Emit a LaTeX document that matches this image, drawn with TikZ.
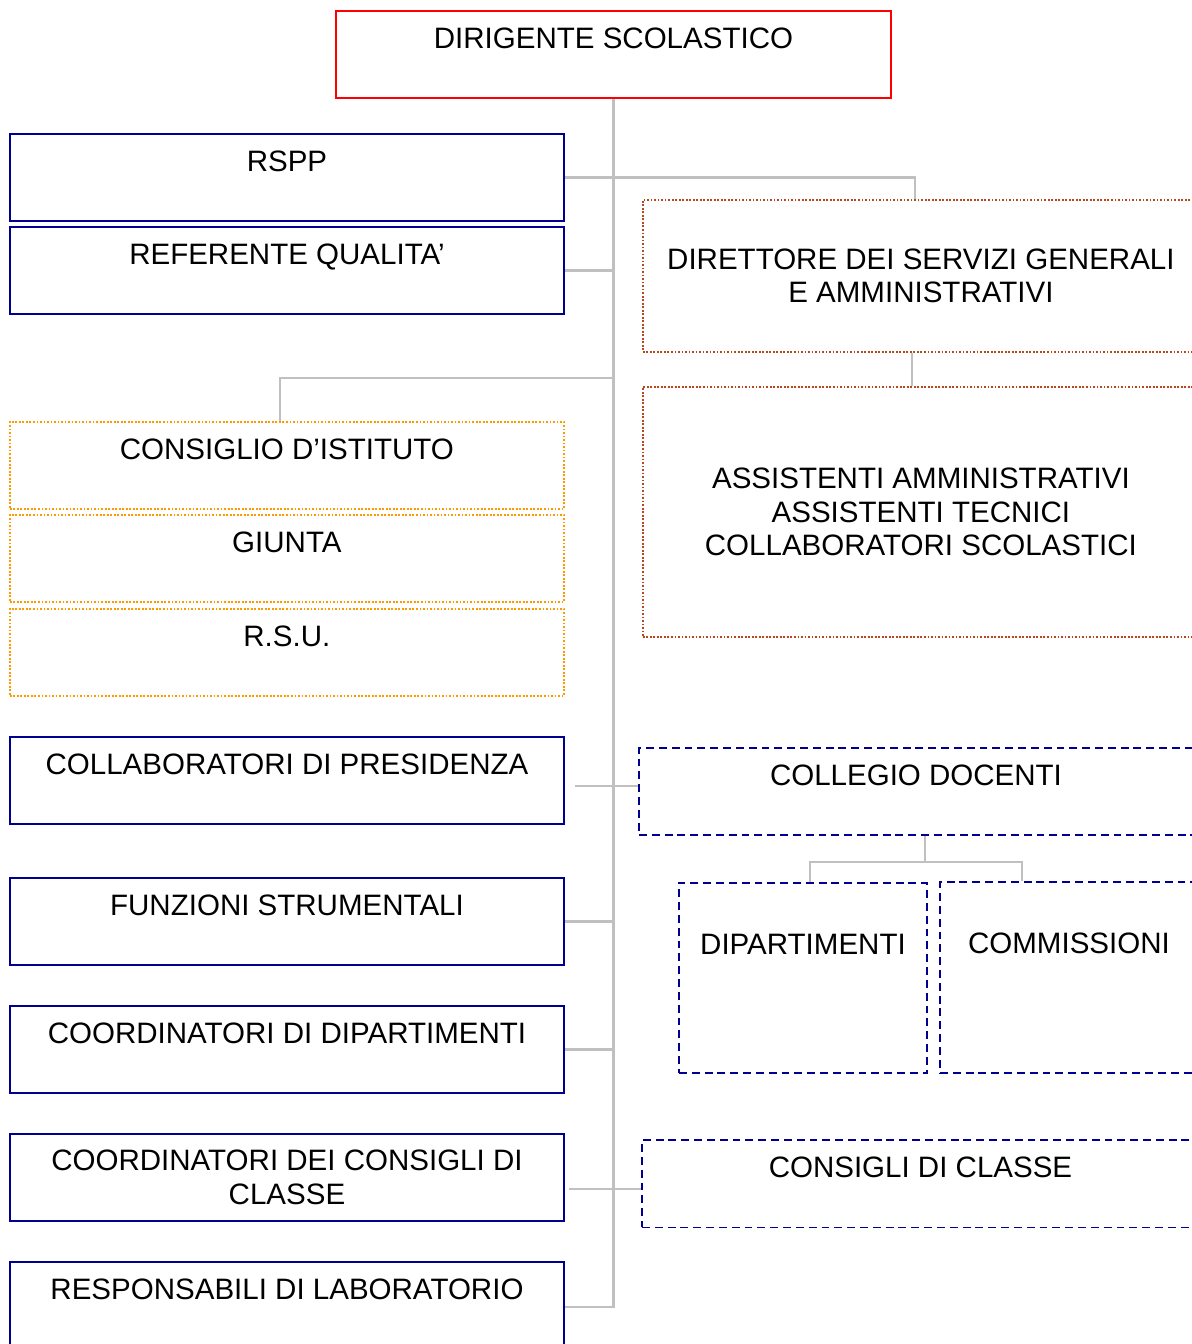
\documentclass[tikz,border=0pt]{standalone}
\usepackage{fontspec}
\setmainfont{Liberation Sans}
\usetikzlibrary{positioning}
\definecolor{headred}{HTML}{FF0000}
\definecolor{staffnavy}{HTML}{000090}
\definecolor{boardorange}{HTML}{FF9900}
\definecolor{adminrust}{HTML}{B8461E}
\definecolor{linkgray}{HTML}{C0C0C0}
\newcommand{\pxl}{0.02cm}

\begin{document}
\begin{tikzpicture}[x=\pxl, y=-\pxl,
  every node/.style={font=\fontsize{16.8}{19.3}\selectfont},
  box/.style={draw, anchor=north west, inner sep=0pt, line width=1.1pt, align=center,
              minimum width=554*\pxl, minimum height=87*\pxl},
  toptext/.style={text height=21.5pt, text depth=#1},
  toptext/.default=27.8pt,
  midtext/.style={text height=40.5pt, text depth=#1},
  head/.style={box, draw=headred},
  staff/.style={box, draw=staffnavy},
  board/.style={box, draw=boardorange, line width=1pt, dash pattern=on 1pt off 1pt},
  admin/.style={box, draw=adminrust, line width=1pt, dash pattern=on 1pt off 1pt},
  teach/.style={box, draw=staffnavy, dash pattern=on 4.5pt off 2.8pt},
  link/.style={draw=linkgray, line width=1.2pt}]

\useasboundingbox (0,0) rectangle (1192,1344);

% left column
\node[head, toptext, minimum width=555*\pxl] (dirigente) at (335,10) {DIRIGENTE SCOLASTICO};
\node[staff, toptext] (rspp) at (9,133) {RSPP};
\node[staff, toptext] (referente) at (9,226) {REFERENTE QUALITA’};
\node[board, toptext] (consiglio) at (9,421) {CONSIGLIO D’ISTITUTO};
\node[board, toptext] (giunta) at (9,514) {GIUNTA};
\node[board, toptext] (rsu) at (9,608) {R.S.U.};
\node[staff, toptext] (collab) at (9,736) {COLLABORATORI DI PRESIDENZA};
\node[staff, toptext] (funzioni) at (9,877) {FUNZIONI STRUMENTALI};
\node[staff, toptext] (coorddip) at (9,1005) {COORDINATORI DI DIPARTIMENTI};
\node[staff] (coordcons) at (9,1133) {COORDINATORI DEI CONSIGLI DI\\CLASSE};
\node[staff, toptext=29.5pt] (resp) at (9,1261) {RESPONSABILI DI LABORATORIO};

% right column
\node[admin, minimum width=556*\pxl, minimum height=152*\pxl] (direttore) at (642,199)
  {DIRETTORE DEI SERVIZI GENERALI\\E AMMINISTRATIVI};
\node[admin, minimum width=556*\pxl, minimum height=250*\pxl] (assistenti) at (642,386)
  {ASSISTENTI AMMINISTRATIVI\\ASSISTENTI TECNICI\\COLLABORATORI SCOLASTICI};
\node[teach, toptext] (collegio) at (638,747) {COLLEGIO DOCENTI};
\node[teach, midtext=67.8pt, minimum width=248*\pxl] (dipartimenti) at (678,882) {DIPARTIMENTI};
\node[teach, midtext=68.3pt, minimum width=258*\pxl] (commissioni) at (939,881) {COMMISSIONI};
\node[teach, toptext=28.3pt, minimum width=557*\pxl] (classe) at (641,1139) {CONSIGLI DI CLASSE};

% connectors
\coordinate (cijoin) at (612,378);
\coordinate (cdsplit) at (925,862);
\coordinate (dipjoin) at (810,882);
\coordinate (comjoin) at (1022,881);

\draw[link] (dirigente.south) |- (resp.east);
\draw[link] (rspp.east) -| ([xshift=-6*\pxl]direttore.north);
\draw[link] (referente.east) -- (referente.east -| dirigente.south);
\draw[link] ([xshift=-9*\pxl]direttore.south) -- ([xshift=-9*\pxl]assistenti.north);
\draw[link] (cijoin) -| ([xshift=-7*\pxl]consiglio.north);
\draw[link] ([yshift=5.5*\pxl]collegio.west) -- ([xshift=10*\pxl, yshift=5.5*\pxl]collegio.west -| collab.east);
\draw[link] (funzioni.east) -- (funzioni.east -| dirigente.south);
\draw[link] (coorddip.east) -- (coorddip.east -| dirigente.south);
\draw[link] ([yshift=-5*\pxl]classe.west) -- ([xshift=4*\pxl, yshift=-5*\pxl]classe.west -| coordcons.east);
\draw[link] (cdsplit |- collegio.south) -- (cdsplit);
\draw[link] (dipjoin) -- (dipjoin |- cdsplit) -- (comjoin |- cdsplit) -- (comjoin);
\end{tikzpicture}
\end{document}
